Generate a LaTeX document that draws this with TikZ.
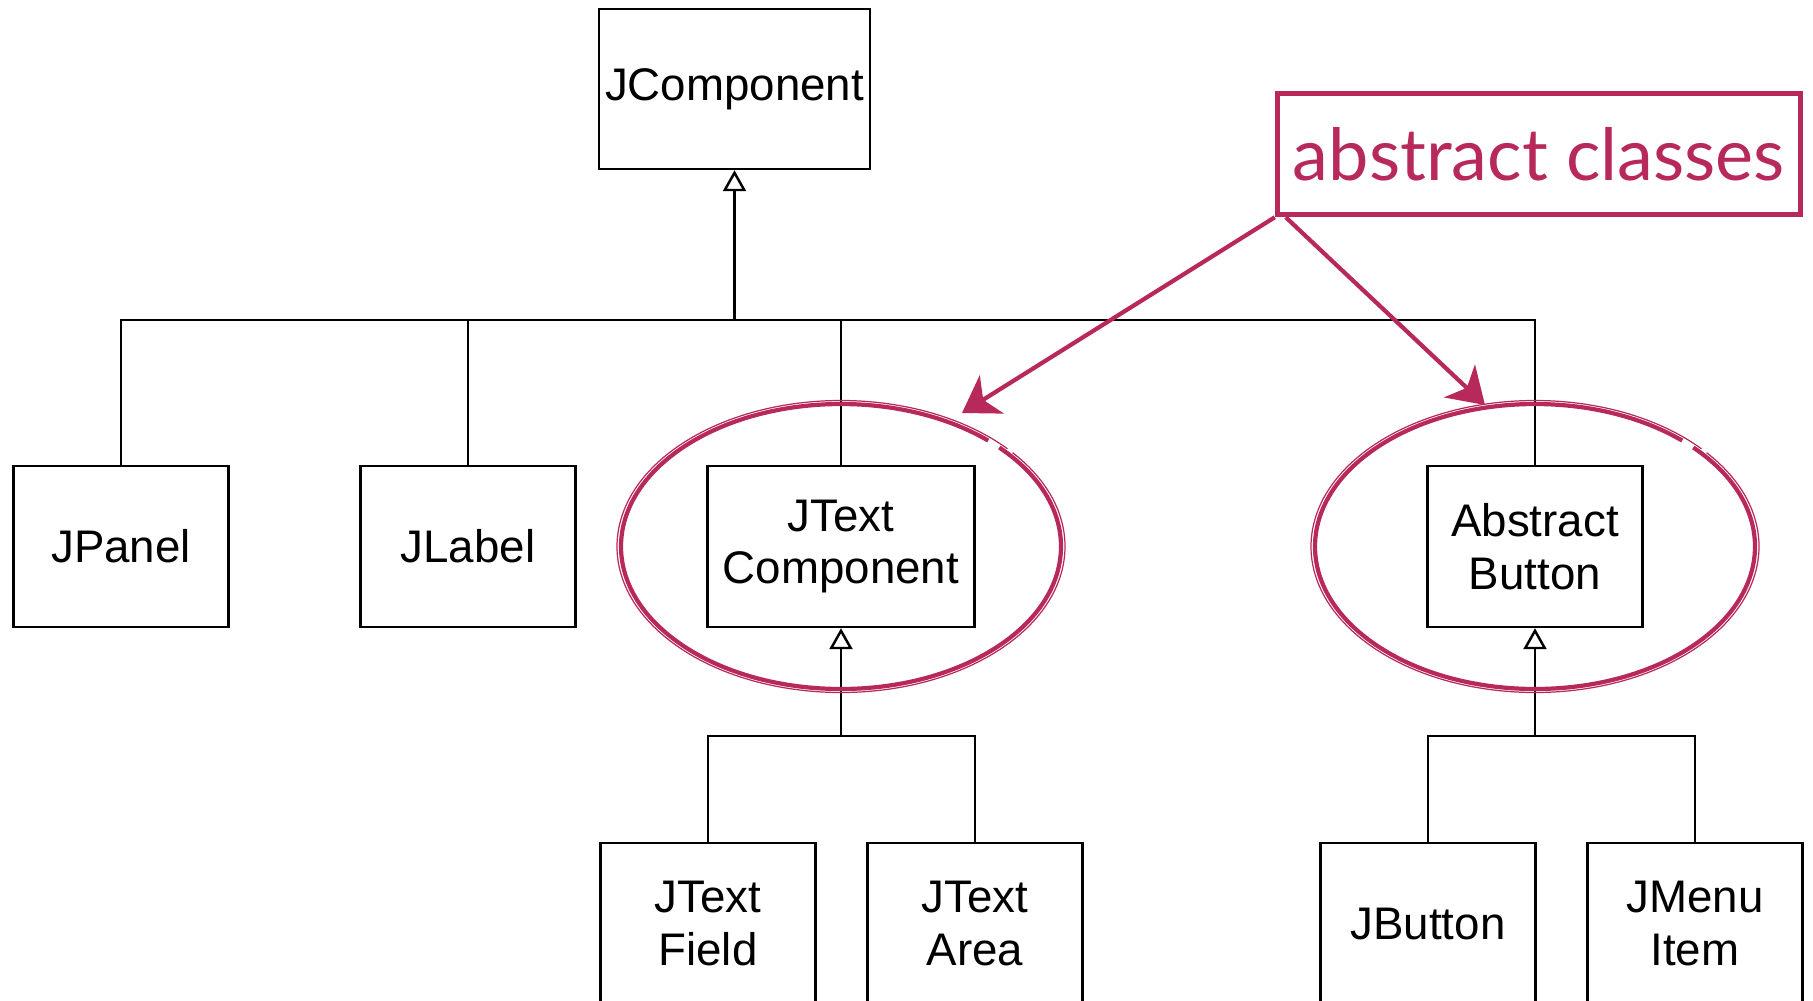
\documentclass[tikz,border=0pt]{standalone}
\usepackage{fontspec}
\setmainfont{Liberation Sans}
\newfontfamily\notefont{Lato}
\usetikzlibrary{shapes.geometric, arrows.meta}
\definecolor{marker}{RGB}{184,41,91}
\tikzstyle{klass} = [rectangle, minimum width=4.3cm, minimum height=3.22cm, align=center, draw=black, line width=1.4pt, font=\fontsize{26}{30}\selectfont]
\tikzstyle{link} = [line width=1.4pt]
\tikzstyle{inherit} = [line width=1.4pt, -{Triangle[open, length=0.42cm, width=0.46cm]}]
\tikzstyle{note} = [rectangle, draw=marker, line width=2.6pt, text=marker, minimum width=10.48cm, minimum height=2.44cm, font=\notefont\fontsize{41}{46}\selectfont]
\tikzstyle{ring} = [draw=marker, line width=2.4pt]
\tikzstyle{pointer} = [draw=marker, line width=2.4pt, -{Stealth[length=0.7cm, width=0.9cm, inset=0.2cm]}]

\begin{document}
\begin{tikzpicture}[x=0.02cm, y=-0.02cm]
\clip (0,0) rectangle (1813,1001);

\node (jcomp) [klass, minimum width=5.36cm, minimum height=3.2cm] at (734.5,89) {JComponent};

\node (jpanel) [klass] at (121,546.5) {JPanel};

\node (jlabel) [klass] at (468,546.5) {JLabel};

\node (jtextcomp) [klass, minimum width=5.34cm] at (841,546.5) {JText\\Component};

\node (absbutton) [klass] at (1535,546.5) {Abstract\\Button};

\node (jtextfield) [klass] at (708,923.5) {JText\\Field};

\node (jtextarea) [klass] at (975,923.5) {JText\\Area};

\node (jbutton) [klass] at (1428,923.5) {JButton};

\node (jmenuitem) [klass] at (1695,923.5) {JMenu\\Item};

\node (note) [note] at (1539,154) {abstract classes};

\coordinate (bus) at (734.5,320);
\coordinate (textbus) at (841,736);
\coordinate (buttonbus) at (1535,736);
\coordinate (tipL) at (962,413);
\coordinate (tipR) at (1485,405);

\draw [inherit] (bus) -- (jcomp);
\draw [link] (jpanel.north) |- (bus) -| (absbutton.north);
\draw [link] (jlabel.north) -- (jlabel.north |- bus);
\draw [link] (jtextcomp.north) -- (jtextcomp.north |- bus);

\draw [inherit] (textbus) -- (jtextcomp);
\draw [link] (jtextfield.north) |- (textbus) -| (jtextarea.north);

\draw [inherit] (buttonbus) -- (absbutton);
\draw [link] (jbutton.north) |- (buttonbus) -| (jmenuitem.north);

% hand-drawn marks
\draw [marker, line width=0.6pt] ([xshift=0.1cm,yshift=0.1cm]note.south west) rectangle ([xshift=-0.1cm,yshift=-0.1cm]note.north east);

\draw [ring] (jtextcomp) ++(-44:220 and 142.5) arc [start angle=-44, end angle=312, x radius=220, y radius=142.5];
\draw [ring, line width=0.7pt] (jtextcomp) ++(-40:224 and 146) arc [start angle=-40, end angle=318, x radius=224, y radius=146];

\draw [ring] (absbutton) ++(-44:220 and 142.5) arc [start angle=-44, end angle=312, x radius=220, y radius=142.5];
\draw [ring, line width=0.7pt] (absbutton) ++(-40:224 and 146) arc [start angle=-40, end angle=318, x radius=224, y radius=146];

\draw [pointer] (note.south west) -- (tipL);
\draw [pointer] ([xshift=0.22cm]note.south west) -- (tipR);
\end{tikzpicture}
\end{document}
